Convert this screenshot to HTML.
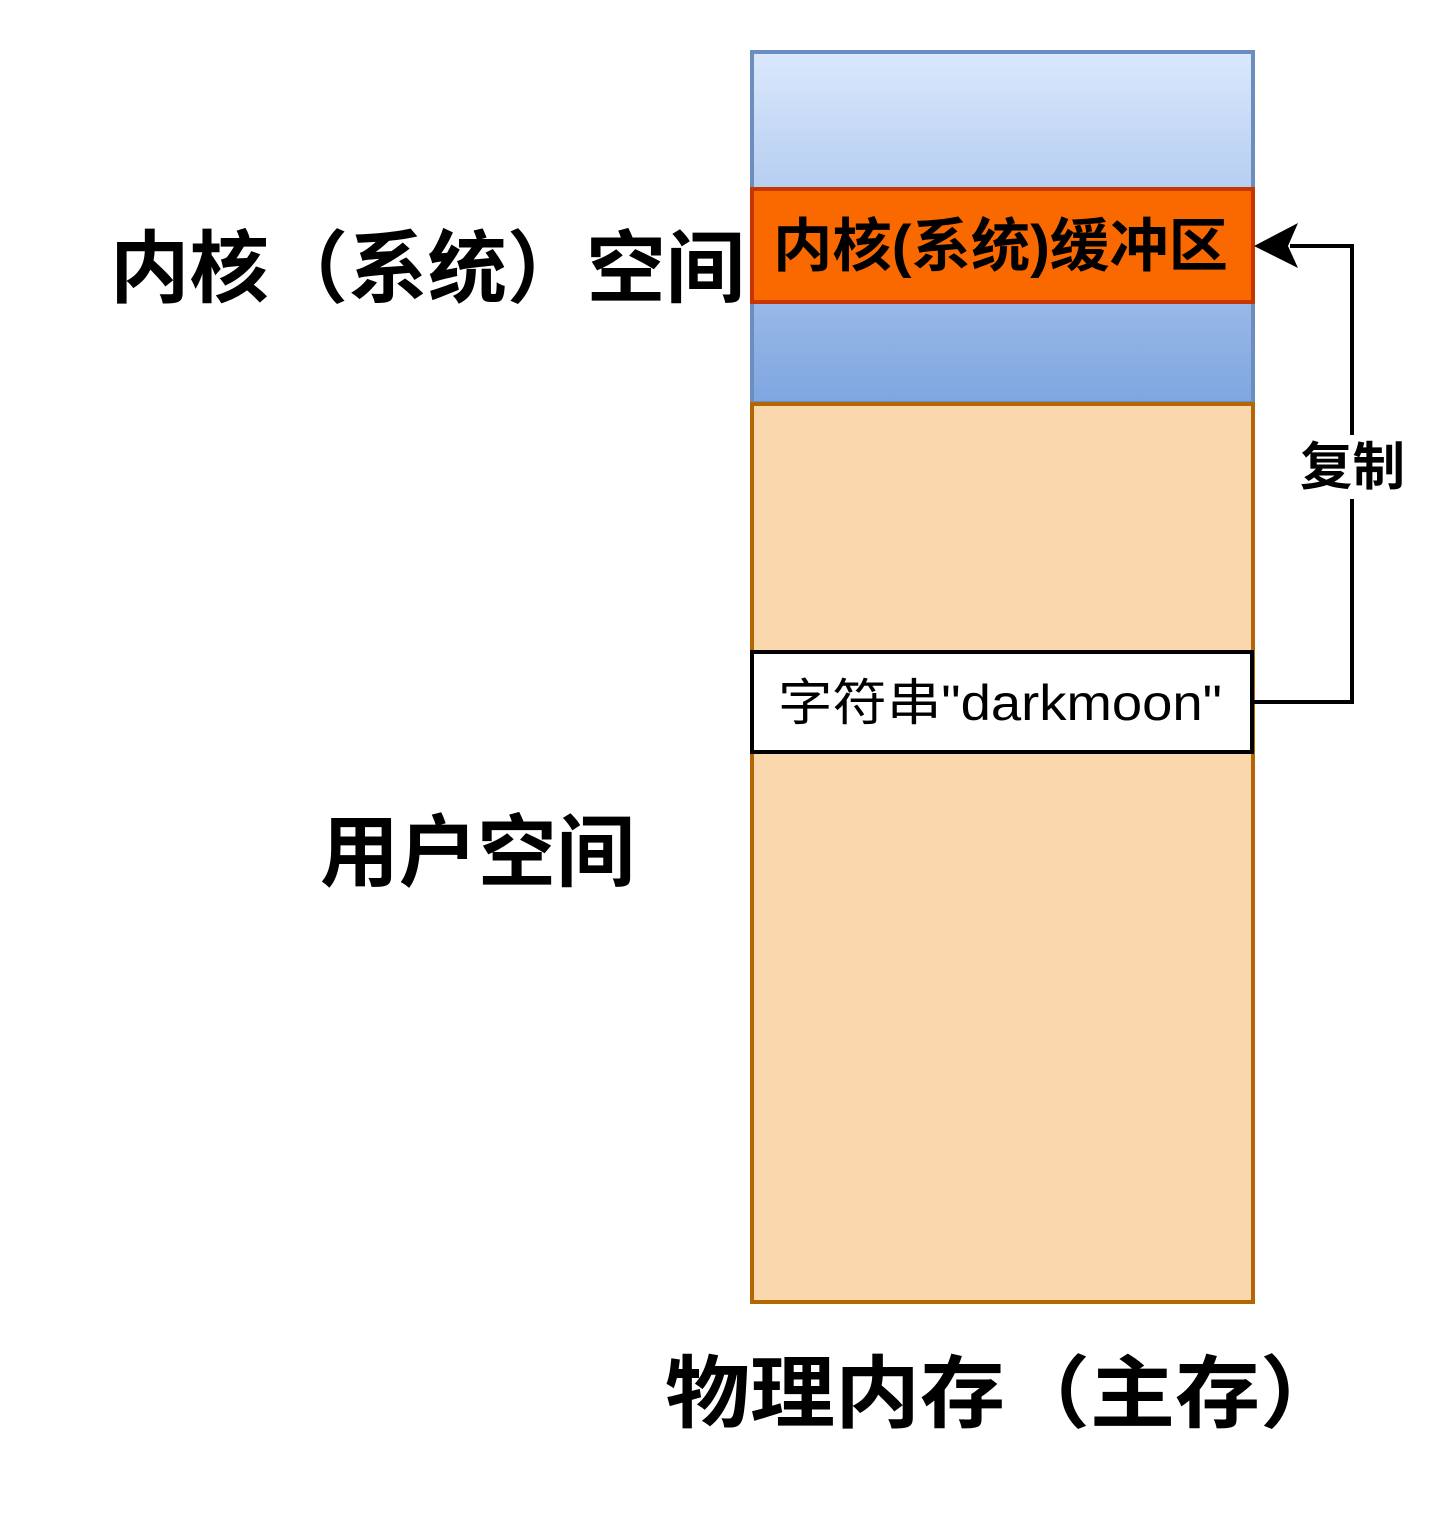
<!DOCTYPE html>
<html><head><meta charset="utf-8"><style>html,body{margin:0;padding:0;background:#fff}svg{display:block}</style></head>
<body>
<svg width="1455" height="1530" viewBox="0 0 1455 1530" xmlns="http://www.w3.org/2000/svg" font-family="'Liberation Sans','Noto Sans CJK SC',sans-serif">
<defs><linearGradient id="g" x1="0" y1="0" x2="0" y2="1"><stop offset="0" stop-color="#dae8fc"/><stop offset="1" stop-color="#7ea6e0"/></linearGradient></defs>
<rect x="752" y="52" width="501" height="351" fill="url(#g)" stroke="#6c8ebf" stroke-width="4"/>
<rect x="752" y="189" width="501" height="113" fill="#fa6800" stroke="#c73500" stroke-width="4"/>
<text x="773" y="266" font-size="58" font-weight="bold" textLength="455" lengthAdjust="spacingAndGlyphs">内核(系统)缓冲区</text>
<rect x="752" y="404" width="501" height="898" fill="#fad7ac" stroke="#b46504" stroke-width="4"/>
<rect x="752" y="652" width="500" height="100" fill="#fff" stroke="#000" stroke-width="4"/>
<text x="778" y="720" font-size="50" textLength="444" lengthAdjust="spacingAndGlyphs">字符串"darkmoon"</text>
<path d="M1253 702 H1352 V246 H1290" fill="none" stroke="#000" stroke-width="4"/>
<path d="M1254 246 L1298 223 L1288 246 L1298 268 Z" fill="#000"/>
<rect x="1296" y="435" width="112" height="64" fill="#fff"/>
<text x="1300" y="485" font-size="52" font-weight="bold" textLength="105" lengthAdjust="spacingAndGlyphs">复制</text>
<text x="110" y="296" font-size="79" font-weight="bold" textLength="635" lengthAdjust="spacingAndGlyphs">内核（系统）空间</text>
<text x="320" y="880" font-size="79" font-weight="bold" textLength="315" lengthAdjust="spacingAndGlyphs">用户空间</text>
<text x="665" y="1421" font-size="79" font-weight="bold" textLength="680" lengthAdjust="spacingAndGlyphs">物理内存（主存）</text>
</svg>
</body></html>
